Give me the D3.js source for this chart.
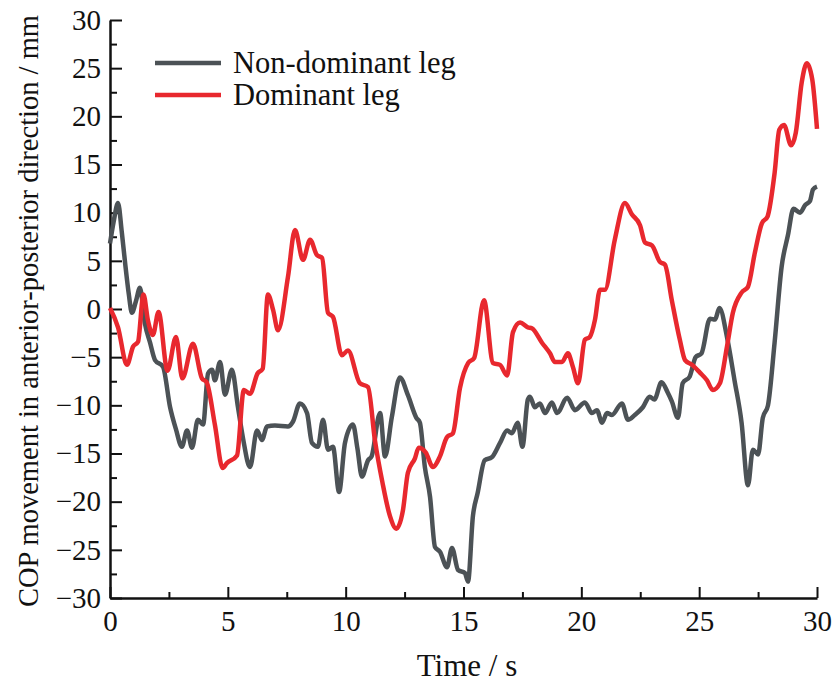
<!DOCTYPE html>
<html>
  <head>
    <title>COP movement</title>
    <meta charset="utf-8">
    <style>
      html, body {
        margin: 0;
        padding: 0;
        background: #ffffff;
      }
      text {
        font-family: "Liberation Serif", "Times New Roman", serif;
      }
    </style>
  </head>
  <body>
    <script type="text/javascript" src="https://cdn.jsdelivr.net/npm/d3@7"></script>
    <div id="chart"></div>
    <script>

      // Non-dominant leg (gray)
      var timeND = [0, 0.15, 0.34, 0.5, 0.64, 0.8, 0.93, 1.1, 1.27, 1.48, 1.7, 1.91, 2.25, 2.55, 2.8, 3.05, 3.27, 3.48, 3.73, 3.95,
                    4.16, 4.33, 4.45, 4.67, 4.88, 5.17, 5.43, 5.65, 5.94, 6.24, 6.45, 6.66, 7.0, 7.55, 7.76, 8.06, 8.36, 8.57, 8.82, 9.04,
                    9.25, 9.46, 9.72, 9.97, 10.31, 10.5, 10.69, 10.95, 11.1, 11.46, 11.67, 11.96, 12.3, 12.65, 13.0, 13.15, 13.36, 13.58, 13.79, 14.0,
                    14.3, 14.51, 14.77, 15.06, 15.19, 15.4, 15.6, 15.9, 16.2, 16.55, 16.85, 17.05, 17.3, 17.5, 17.73, 17.82, 18.03, 18.24, 18.46, 18.75,
                    18.97, 19.4, 19.73, 20.15, 20.45, 20.66, 20.88, 21.09, 21.3, 21.72, 21.98, 22.27, 22.61, 22.9, 23.1, 23.4, 23.67, 23.84, 24.1, 24.3,
                    24.6, 24.85, 25.1, 25.46, 25.67, 25.86, 26.18, 26.5, 26.8, 27.07, 27.28, 27.5, 27.7, 27.92, 28.2, 28.5, 28.77, 29.0, 29.28, 29.5,
                    29.7, 29.83, 30.0]
      var valuesND = [6.8, 9.0, 11.0, 8.0, 4.8, 1.5, -0.4, 0.8, 2.2, -1.5, -3.5, -5.3, -6.0, -10.2, -12.5, -14.3, -12.6, -14.4, -11.5, -12.0,
                      -6.7, -6.3, -7.4, -5.5, -8.9, -6.3, -10.2, -13.5, -16.4, -12.6, -13.6, -12.2, -12.1, -12.2, -11.7, -9.8, -10.8, -13.9, -14.3, -11.5,
                      -14.6, -14.3, -19.0, -13.9, -12.0, -14.5, -17.4, -15.7, -15.3, -10.8, -15.3, -11.2, -7.1, -9.0, -11.3, -11.8, -16.4, -19.5, -24.7, -25.2,
                      -26.8, -24.8, -27.1, -27.4, -28.3, -21.5, -19.1, -15.7, -15.4, -13.9, -12.6, -12.9, -11.8, -14.3, -9.4, -9.1, -10.2, -9.8, -10.8, -9.7,
                      -10.8, -9.2, -10.5, -9.7, -10.8, -10.5, -11.8, -10.8, -11.0, -9.8, -11.5, -11.0, -10.2, -9.1, -9.4, -7.6, -8.7, -9.6, -11.3, -7.7,
                      -7.0, -5.0, -4.6, -1.0, -1.1, 0.1, -2.9, -7.4, -11.8, -18.3, -14.6, -15.1, -11.3, -10.0, -3.5, 4.4, 7.7, 10.4, 10.0, 10.8,
                      11.2, 12.4, 12.7]

      // Dominant leg (red)
      var timeD = [0, 0.34, 0.72, 0.98, 1.19, 1.42, 1.61, 1.82, 2.06, 2.44, 2.8, 3.07, 3.52, 3.9, 4.1, 4.45, 4.78, 4.96, 5.39, 5.68,
                   5.94, 6.26, 6.48, 6.7, 6.92, 7.13, 7.55, 7.85, 8.19, 8.49, 8.78, 9.0, 9.25, 9.46, 9.84, 10.1, 10.6, 10.95, 11.24, 11.56,
                   11.88, 12.15, 12.43, 12.64, 12.94, 13.1, 13.4, 13.7, 14.0, 14.3, 14.55, 14.85, 15.2, 15.45, 15.87, 16.25, 16.55, 16.85, 17.1, 17.4,
                   17.73, 17.9, 18.33, 18.67, 18.88, 19.18, 19.43, 19.64, 19.86, 20.15, 20.36, 20.58, 20.79, 21.0, 21.42, 21.85, 22.15, 22.49, 22.7, 23.0,
                   23.33, 23.55, 23.84, 24.18, 24.4, 24.7, 25.03, 25.33, 25.58, 25.88, 26.18, 26.43, 26.8, 27.07, 27.36, 27.66, 27.9, 28.2, 28.4, 28.6,
                   28.9, 29.1, 29.35, 29.57, 29.8, 30.0]
      var valuesD = [0.1, -1.9, -5.8, -3.9, -3.4, 1.5, -1.2, -2.7, -0.3, -6.4, -2.9, -7.2, -3.6, -7.2, -7.6, -12.0, -16.5, -16.0, -15.2, -8.4,
                     -8.8, -6.7, -6.2, 1.5, -0.1, -2.2, 3.3, 8.2, 5.1, 7.2, 5.6, 5.3, -0.4, -0.8, -4.8, -4.3, -7.7, -8.1, -13.6, -18.0,
                     -21.5, -22.8, -20.9, -17.0, -15.5, -14.4, -14.9, -16.4, -15.3, -13.3, -12.9, -8.2, -5.6, -5.1, 0.9, -5.6, -5.8, -6.9, -2.4, -1.4,
                     -1.9, -2.0, -3.5, -4.6, -5.5, -5.5, -4.6, -6.0, -7.7, -3.2, -2.9, -1.1, 2.0, 2.0, 7.2, 11.0, 9.8, 8.7, 6.9, 6.6,
                     4.9, 4.6, 0.9, -3.2, -5.3, -5.8, -6.6, -7.4, -8.4, -7.7, -3.9, -0.4, 1.7, 2.3, 5.8, 8.9, 9.6, 14.1, 18.6, 19.1,
                     17.0, 18.3, 23.5, 25.5, 23.8, 18.7]

      var seriesNames = ['Non-dominant leg', 'Dominant leg']
      var seriesColors = ['#4c5256', '#e8282e']

      var xTicks = [0, 5, 10, 15, 20, 25, 30]
      var yTicks = [-30, -25, -20, -15, -10, -5, 0, 5, 10, 15, 20, 25, 30]

      var width = 835, height = 687

      var svg = d3.select('#chart')
        .append('svg')
        .attr('width', width)
        .attr('height', height)

      var x = d3.scaleLinear()
        .domain([0, 30])
        .range([110, 817])

      var y = d3.scaleLinear()
        .domain([-30, 30])
        .range([598, 20])

      // minor ticks (inside)
      svg.append('g')
        .attr('transform', 'translate(110,0)')
        .call(d3.axisLeft(y).tickValues(d3.range(-27.5, 30, 5)).tickSize(-7).tickFormat(''))
        .call(g => g.select('.domain').remove())
        .selectAll('line').attr('stroke-width', 2).attr('stroke', '#111')

      svg.append('g')
        .attr('transform', 'translate(0,598)')
        .call(d3.axisBottom(x).tickValues(d3.range(2.5, 30, 5)).tickSize(-6).tickFormat(''))
        .call(g => g.select('.domain').remove())
        .selectAll('line').attr('stroke-width', 2).attr('stroke', '#111')

      // Y axis
      var yAxis = svg.append('g')
        .attr('transform', 'translate(110,0)')
        .call(d3.axisLeft(y).tickValues(yTicks).tickSize(-12).tickSizeOuter(0).tickPadding(9)
          .tickFormat(d => d < 0 ? '\u2212' + Math.abs(d) : d))
      yAxis.select('.domain').attr('stroke-width', 2.5).attr('stroke', '#111')
      yAxis.selectAll('line').attr('stroke-width', 2).attr('stroke', '#111')
      yAxis.selectAll('text').style('font-size', '29px').attr('fill', '#111')

      // X axis
      var xAxis = svg.append('g')
        .attr('transform', 'translate(0,598)')
        .call(d3.axisBottom(x).tickValues(xTicks).tickSize(-11).tickSizeOuter(0).tickPadding(12))
      xAxis.select('.domain').attr('stroke-width', 2.5).attr('stroke', '#111')
      xAxis.selectAll('line').attr('stroke-width', 2).attr('stroke', '#111')
      xAxis.selectAll('text').style('font-size', '29px').attr('fill', '#111')

      // Lines
      var line = d3.line()
        .x(d => x(d[0]))
        .y(d => y(d[1]))
        .curve(d3.curveMonotoneX)

      var ndData = timeND.map((t, i) => [t, valuesND[i]])
      var dData = timeD.map((t, i) => [t, valuesD[i]])

      svg.append('path')
        .datum(ndData)
        .attr('d', line)
        .attr('fill', 'none')
        .attr('stroke', seriesColors[0])
        .attr('stroke-width', 4.5)
        .attr('stroke-linejoin', 'round')

      svg.append('path')
        .datum(dData)
        .attr('d', line)
        .attr('fill', 'none')
        .attr('stroke', seriesColors[1])
        .attr('stroke-width', 4.5)
        .attr('stroke-linejoin', 'round')

      // Legend
      var legend = svg.append('g')
        .selectAll('g')
        .data(seriesNames)
        .enter()
        .append('g')
        .attr('transform', (d, i) => 'translate(155,' + (63 + i * 32) + ')')

      legend.append('line')
        .attr('x1', 0).attr('x2', 66)
        .attr('stroke', (d, i) => seriesColors[i])
        .attr('stroke-width', 4.5)

      legend.append('text')
        .attr('x', 78)
        .attr('y', 10)
        .style('font-size', '30.5px')
        .attr('fill', '#111')
        .text(d => d)

      // Axis titles
      svg.append('text')
        .attr('x', 467)
        .attr('y', 676)
        .attr('text-anchor', 'middle')
        .style('font-size', '31px')
        .attr('fill', '#111')
        .text('Time / s')

      svg.append('text')
        .attr('transform', 'translate(38,311) rotate(-90)')
        .attr('text-anchor', 'middle')
        .style('font-size', '28.5px')
        .attr('fill', '#111')
        .text('COP movement in anterior-posterior direction / mm')

    </script>
  </body>
</html>
